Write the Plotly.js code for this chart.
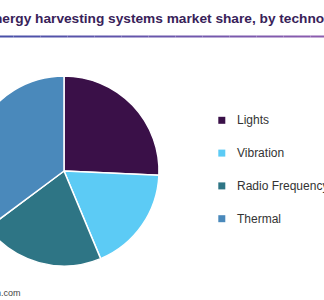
<!DOCTYPE html>
<html>
<head>
<meta charset="utf-8">
<script src="https://cdn.plot.ly/plotly-3.0.1.min.js"></script>
<style>
html, body { margin: 0; padding: 0; overflow: hidden; width: 324px; height: 300px; background: #fff; }
#chart { position: absolute; left: -80px; top: 0; width: 520px; height: 300px; }
</style>
</head>
<body>
<div id="chart"></div>
<script>
// Data
const labels = ["Lights", "Vibration", "Radio Frequency", "Thermal"];
const shares = [25.7, 18.0, 21.1, 35.2];
const colors = ["#3a1048", "#5ccbf5", "#2e7585", "#4a89bb"];
const titleText = "Global energy harvesting systems market share, by technology, 2016 (%)";
const sourceText = "Source: www.grandviewresearch.com";

// Layout helpers (page pixel -> paper fraction)
const L = 80, W = 520, H = 300;
const px = x => (x + L) / W;
const py = y => 1 - y / H;

const cx = 64, cy = 171, r = 95;

const pie = {
  type: "pie",
  labels: labels,
  values: shares,
  sort: false,
  direction: "clockwise",
  rotation: 0,
  textinfo: "none",
  hoverinfo: "label+percent",
  showlegend: false,
  marker: { colors: colors, line: { color: "#ffffff", width: 1.5 } },
  domain: { x: [px(cx - r), px(cx + r)], y: [py(cy + r), py(cy - r)] }
};

const shapes = [];
const annotations = [];

// gradient rule under title
const nSeg = 24;
const c0 = [72, 80, 168], c1 = [140, 92, 174];
for (let i = 0; i < nSeg; i++) {
  const t = (i + 0.5) / nSeg;
  const c = c0.map((v, k) => Math.round(v + (c1[k] - v) * t));
  const x0 = i === 0 ? -L : 324 * i / nSeg;
  const x1 = i === nSeg - 1 ? W - L : 324 * (i + 1) / nSeg;
  shapes.push({
    type: "line", xref: "paper", yref: "paper",
    x0: px(x0), x1: px(x1), y0: py(36.5), y1: py(36.5),
    line: { color: "rgb(" + c.join(",") + ")", width: 2 }
  });
}

// title
const titleSize = 13.7;
annotations.push({
  text: titleText, xref: "paper", yref: "paper",
  x: px(-4.557 * titleSize + 0.5), y: py(18.5), xanchor: "left", yanchor: "middle",
  showarrow: false,
  font: { family: "Arial, 'Liberation Sans', sans-serif", size: titleSize, weight: "bold", color: "#382259" }
});

// source
annotations.push({
  text: sourceText, xref: "paper", yref: "paper",
  x: px(23), y: py(293), xanchor: "right", yanchor: "middle",
  showarrow: false,
  font: { family: "Arial, 'Liberation Sans', sans-serif", size: 9, color: "#444" }
});

// legend
labels.forEach((lab, i) => {
  const yc = 120.3 + 32.8 * i;
  shapes.push({
    type: "rect", xref: "paper", yref: "paper",
    x0: px(218.3), x1: px(225.3), y0: py(yc + 3.5), y1: py(yc - 3.5),
    fillcolor: colors[i], line: { width: 0 }
  });
  annotations.push({
    text: lab, xref: "paper", yref: "paper",
    x: px(234.5), y: py(yc), xanchor: "left", yanchor: "middle",
    showarrow: false,
    font: { family: "Arial, 'Liberation Sans', sans-serif", size: 12, color: "#333" }
  });
});

const layout = {
  width: W, height: H,
  margin: { l: 0, r: 0, t: 0, b: 0 },
  paper_bgcolor: "#fff",
  showlegend: false,
  shapes: shapes,
  annotations: annotations
};

Plotly.newPlot("chart", [pie], layout, { displayModeBar: false, staticPlot: true });
</script>
</body>
</html>
